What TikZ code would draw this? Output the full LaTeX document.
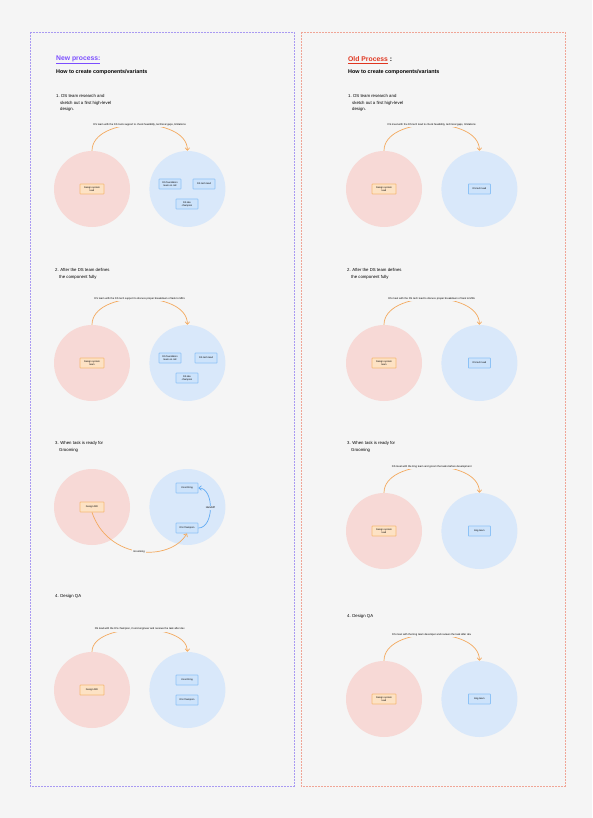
\documentclass[tikz,border=0pt]{standalone}
\usepackage{fontspec}
\setmainfont{Liberation Sans}
\usetikzlibrary{positioning,arrows.meta}

\definecolor{bg}{HTML}{F5F5F5}
\definecolor{pinkfill}{HTML}{F7D9D6}
\definecolor{bluefill}{HTML}{D9E8FA}
\definecolor{orangefill}{HTML}{FDE2C4}
\definecolor{orangeline}{HTML}{F5B873}
\definecolor{flowline}{HTML}{F3A95E}
\definecolor{boxblue}{HTML}{CDE3FB}
\definecolor{blueline}{HTML}{8DC2F6}
\definecolor{handoffblue}{HTML}{62ABF3}
\definecolor{newpurple}{HTML}{7B4DFF}
\definecolor{oldred}{HTML}{E0351F}
\definecolor{purpleline}{HTML}{A99AF2}
\definecolor{salmonline}{HTML}{F0A596}

\newcommand\titletxt{\fontsize{6.8}{8}\selectfont\bfseries}
\newcommand\subtxt{\fontsize{5.4}{6.5}\selectfont\bfseries}
\newcommand\steptxt{\fontsize{4.3}{6.8}\selectfont}
\newcommand\notetxt{\fontsize{2.6}{3}\selectfont}
\newcommand\boxtxt{\fontsize{2.4}{2.9}\selectfont}

\begin{document}
\begin{tikzpicture}[x=1pt, y=-1pt,
	pinknode/.style={circle, fill=pinkfill, minimum size=76pt, inner sep=0pt},
	bluenode/.style={circle, fill=bluefill, minimum size=76pt, inner sep=0pt},
	orangebox/.style={draw=orangeline, fill=orangefill, line width=0.7pt, rounded corners=0.5pt, minimum width=24pt, minimum height=10pt, inner sep=1pt, align=center, font=\boxtxt},
	bluebox/.style={draw=blueline, fill=boxblue, line width=0.7pt, rounded corners=0.5pt, minimum width=22pt, minimum height=10pt, inner sep=1pt, align=center, font=\boxtxt},
	flow/.style={-{Straight Barb[length=2.5pt, width=4.5pt]}, draw=flowline, line width=0.7pt},
	note/.style={fill=bg, inner sep=1pt, font=\notetxt},
	steptext/.style={anchor=north west, align=left, inner sep=0pt, font=\steptxt},
	]
	%Background
	\fill[bg] (0,0) rectangle (592,818);
	\useasboundingbox (0,0) rectangle (592,818);
	\draw[purpleline, line width=0.6pt, dash pattern=on 2pt off 1pt] (30,32) rectangle (294,786);
	\draw[salmonline, line width=0.6pt, dash pattern=on 2pt off 1pt] (301,32) rectangle (565,786);

	%Titles
	\node[anchor=west, inner sep=0pt, font=\titletxt, text=newpurple] (newt) at (56,60) {\underline{New process:}};
	\node[anchor=west, inner sep=0pt, font=\subtxt] (news) at (56,72) {How to create components/variants};
	\node[anchor=west, inner sep=0pt, font=\titletxt] (oldt) at (348,60) {\textcolor{oldred}{\underline{Old Process}} :};
	\node[anchor=west, inner sep=0pt, font=\subtxt] (olds) at (348,72) {How to create components/variants};

	%Step texts
	\node[steptext] (l1t) at (56,94) {1. DS team research and\\\hspace*{4pt}sketch out a first high-level\\\hspace*{4pt}design.};
	\node[steptext] (r1t) at (348,94) {1. DS team research and\\\hspace*{4pt}sketch out a first high-level\\\hspace*{4pt}design.};
	\node[steptext] (l2t) at (55,268) {2. After the DS team defines\\\hspace*{4pt}the component fully};
	\node[steptext] (r2t) at (347,268) {2. After the DS team defines\\\hspace*{4pt}the component fully};
	\node[steptext] (l3t) at (55,441) {3. When task is ready for\\\hspace*{4pt}Grooming};
	\node[steptext] (r3t) at (347,441) {3. When task is ready for\\\hspace*{4pt}Grooming};
	\node[steptext] (l4t) at (55,594) {4. Design QA};
	\node[steptext] (r4t) at (347,614) {4. Design QA};

	%Circles
	\node[pinknode] (l1a) at (92,189) {};
	\node[bluenode] (l1b) [right=19pt of l1a] {};
	\node[pinknode] (r1a) at (384,189) {};
	\node[bluenode] (r1b) [right=19pt of r1a] {};
	\node[pinknode] (l2a) at (92,363) {};
	\node[bluenode] (l2b) [right=19pt of l2a] {};
	\node[pinknode] (r2a) at (384,363) {};
	\node[bluenode] (r2b) [right=19pt of r2a] {};
	\node[pinknode] (l3a) at (92,507) {};
	\node[bluenode] (l3b) [right=19pt of l3a] {};
	\node[pinknode] (r3a) at (384,531) {};
	\node[bluenode] (r3b) [right=19pt of r3a] {};
	\node[pinknode] (l4a) at (92,690) {};
	\node[bluenode] (l4b) [right=19pt of l4a] {};
	\node[pinknode] (r4a) at (384,699) {};
	\node[bluenode] (r4b) [right=19pt of r4a] {};

	%Boxes
	\node[orangebox] (l1d) at (l1a) {Design system\\lead};
	\node[bluebox]   (l1e) at (170,184) {DS foundation\\team on call};
	\node[bluebox]   (l1f) at (204,184) {DS tech lead};
	\node[bluebox]   (l1g) at (187,204) {DS dev\\champion};
	\node[orangebox] (r1d) at (r1a) {Design system\\lead};
	\node[bluebox]   (r1e) at (r1b) {DS tech lead};

	\node[orangebox] (l2d) at (l2a) {Design system\\team};
	\node[bluebox]   (l2e) at (170,358) {DS foundation\\team on call};
	\node[bluebox]   (l2f) at (206,358) {DS tech lead};
	\node[bluebox]   (l2g) at (187,378) {DS dev\\champion};
	\node[orangebox] (r2d) at (r2a) {Design system\\team};
	\node[bluebox]   (r2e) at (r2b) {DS tech lead};

	\node[orangebox] (l3d) at (l3a) {Design DRI};
	\node[bluebox]   (l3e) at (187,488) {Coord Eng};
	\node[bluebox]   (l3f) at (187,528) {DS Champion};
	\node[orangebox] (r3d) at (r3a) {Design system\\lead};
	\node[bluebox]   (r3e) at (r3b) {Eng team};

	\node[orangebox] (l4d) at (l4a) {Design DRI};
	\node[bluebox]   (l4e) at (187,680) {Coord Eng};
	\node[bluebox]   (l4f) at (187,700) {DS Champion};
	\node[orangebox] (r4d) at (r4a) {Design system\\lead};
	\node[bluebox]   (r4e) at (r4b) {Eng team};

	%Lines
	\draw[flow] (l1a.north) .. controls +(0,-35) and +(0,-35) .. node[note] {DS team with the DS tools support to check feasibility, technical gaps, limitations} (l1b.north);
	\draw[flow] (r1a.north) .. controls +(0,-35) and +(0,-35) .. node[note] {DS meet with the DS tech lead to check feasibility, technical gaps, limitations} (r1b.north);
	\draw[flow] (l2a.north) .. controls +(0,-35) and +(0,-35) .. node[note] {DS team with the DS tech support to discuss proper breakdown of task to MRs} (l2b.north);
	\draw[flow] (r2a.north) .. controls +(0,-35) and +(0,-35) .. node[note] {DS meet with the DS tech lead to discuss proper breakdown of task to MRs} (r2b.north);
	\draw[flow] (l3d.south) .. controls (108,560) and (170,562) .. node[note] {Grooming} (l3f.south);
	\draw[flow, draw=handoffblue] (l3f.east) .. controls +(16,0) and +(16,0) .. node[note, fill=bluefill] {Handoff} (l3e.east);
	\draw[flow] (r3a.north) .. controls +(0,-35) and +(0,-35) .. node[note] {DS meet with the Eng team and groom the tasks before development} (r3b.north);
	\draw[flow] (l4a.north) .. controls +(0,-30) and +(0,-30) .. node[note] {DS lead with the DS champion, Coord engineer and reviews the task after dev} (l4b.north);
	\draw[flow] (r4a.north) .. controls +(0,-35) and +(0,-35) .. node[note] {DS meet with the Eng team developer and reviews the task after dev} (r4b.north);
\end{tikzpicture}
\end{document}
